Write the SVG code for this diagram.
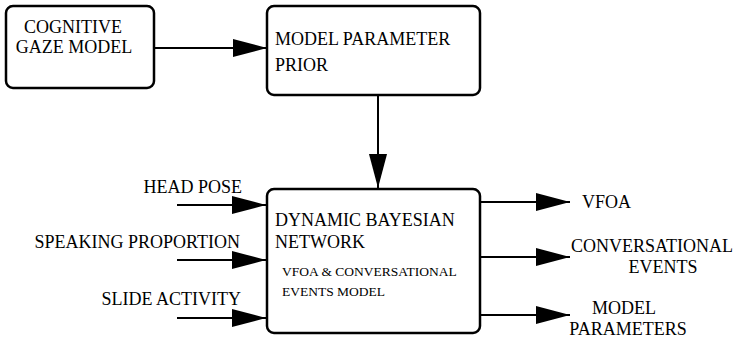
<svg xmlns="http://www.w3.org/2000/svg" width="738" height="339" viewBox="0 0 738 339">
<defs>
<marker id="arr" markerUnits="userSpaceOnUse" markerWidth="34" markerHeight="20" viewBox="0 0 32 18" refX="32" refY="9" orient="auto">
<path d="M0,0.5 L32,9 L0,17.5 Z" fill="#000"/>
</marker>
<style>
.box{fill:#fff;stroke:#000;stroke-width:2.5}
text{font-family:'Liberation Serif','DejaVu Serif',serif;fill:#000}
.t{font-size:18px}
.s{font-size:13.5px}
.c{stroke:#000;stroke-width:2;fill:none;marker-end:url(#arr)}
</style>
</defs>
<rect width="738" height="339" fill="#fff"/>
<g id="connectors">
<line class="c" x1="154" y1="48" x2="267" y2="48"/>
<line class="c" x1="378" y1="95" x2="378" y2="188"/>
<line class="c" x1="177" y1="205" x2="266" y2="205"/>
<line class="c" x1="177" y1="260" x2="266" y2="260"/>
<line class="c" x1="177" y1="318" x2="266" y2="318"/>
<line class="c" x1="480" y1="202" x2="570" y2="202"/>
<line class="c" x1="480" y1="257" x2="570" y2="257"/>
<line class="c" x1="480" y1="315" x2="570" y2="315"/>
</g>
<g id="cognitive">
<rect class="box" x="6" y="6" width="148" height="82" rx="7"/>
<text class="t" x="73" y="33" text-anchor="middle">COGNITIVE</text>
<text class="t" x="74" y="53" text-anchor="middle">GAZE MODEL</text>
</g>
<g id="prior">
<rect class="box" x="267" y="6" width="213" height="89" rx="7"/>
<text class="t" x="275" y="45">MODEL PARAMETER</text>
<text class="t" x="275" y="71">PRIOR</text>
</g>
<g id="dbn">
<rect class="box" x="267" y="189" width="213" height="144" rx="7"/>
<text class="t" x="275" y="226">DYNAMIC BAYESIAN</text>
<text class="t" x="275" y="248">NETWORK</text>
<text class="s" x="282" y="276">VFOA &amp; CONVERSATIONAL</text>
<text class="s" x="282" y="296">EVENTS MODEL</text>
</g>
<g id="inputs">
<text class="t" x="242" y="193" text-anchor="end">HEAD POSE</text>
<text class="t" x="240" y="248" text-anchor="end">SPEAKING PROPORTION</text>
<text class="t" x="241" y="305" text-anchor="end">SLIDE ACTIVITY</text>
</g>
<g id="outputs">
<text class="t" x="582" y="208">VFOA</text>
<text class="t" x="571" y="252">CONVERSATIONAL</text>
<text class="t" x="663" y="273" text-anchor="middle">EVENTS</text>
<text class="t" x="624" y="314" text-anchor="middle">MODEL</text>
<text class="t" x="628" y="335" text-anchor="middle">PARAMETERS</text>
</g>
</svg>
